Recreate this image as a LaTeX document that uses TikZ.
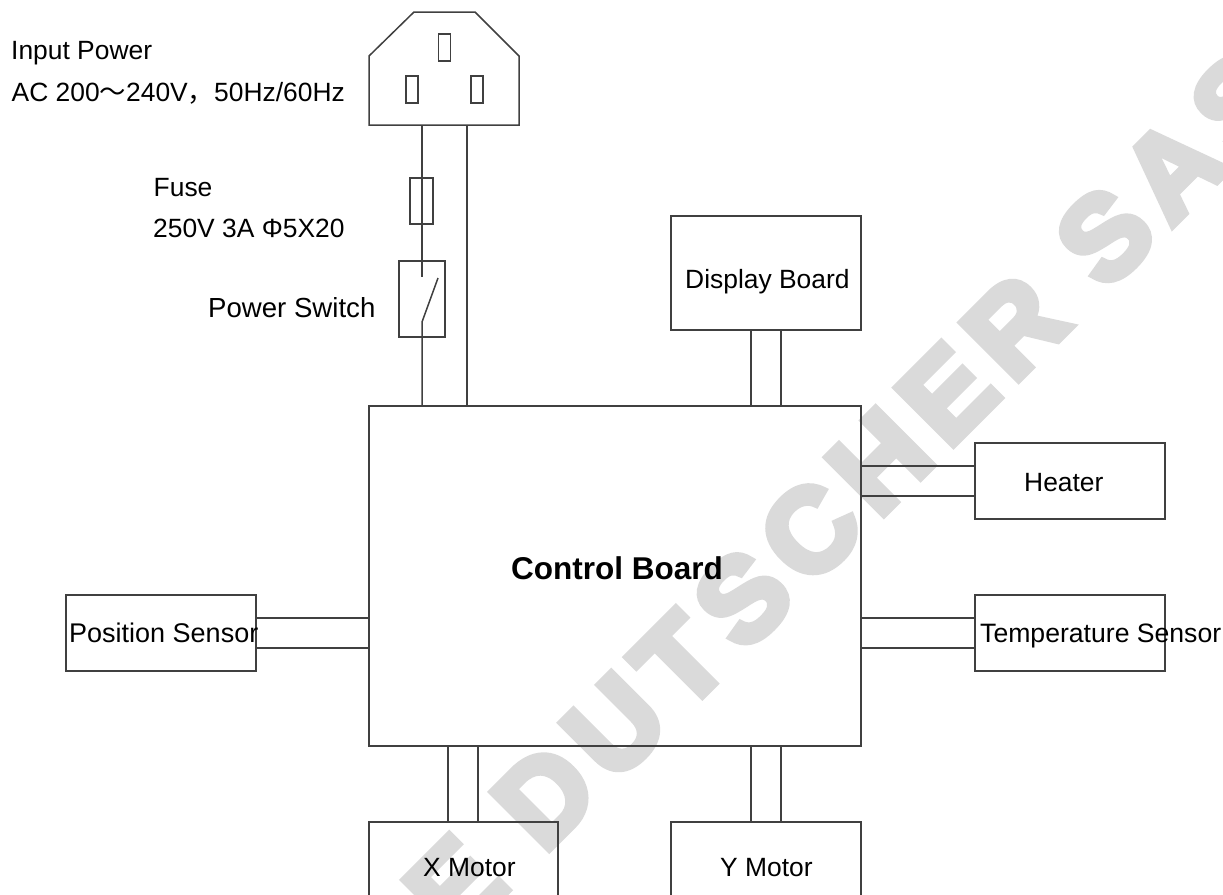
\documentclass[tikz,border=0pt]{standalone}
\usepackage{fontspec}
\setmainfont{Liberation Sans}
\newfontfamily\cjkfont{Noto Sans CJK SC}
\newfontfamily\markfont[FakeBold=6.5,LetterSpace=12]{Liberation Sans Bold}
\definecolor{linecol}{HTML}{404040}
\definecolor{markcol}{HTML}{DADADA}
\tikzset{
  x=1pt,y=-1pt,
  wire/.style={draw=linecol,line width=1.5pt},
  unitbox/.style={wire,rectangle,inner sep=0pt,minimum width=190pt,minimum height=76pt},
  txt/.style={inner sep=0pt,font=\fontsize{26.4}{30}\selectfont,text=black},
  txtleft/.style={txt,anchor=base west},
}
\begin{document}
\begin{tikzpicture}
\useasboundingbox (0,0) rectangle (1223,894);
\clip (0,0) rectangle (1223,894);
% watermark
\node[rotate=45,anchor=base east,inner sep=0pt,text=markcol,font=\fontsize{117}{130}\markfont] (mark) at (1296,102) {E DUTSCHER SAS};
% units
\node[wire,rectangle,inner sep=0pt,minimum width=492pt,minimum height=340pt] (ctrl) at (615,576) {};
\node[unitbox,minimum height=114pt] (disp) at (766,273) {};
\node[unitbox] (heat) at (1070,481) {};
\node[unitbox] (temp) at (1070,633) {};
\node[unitbox] (pos) at (161,633) {};
\node[unitbox,minimum width=189pt,minimum height=120pt] (xm) at (463.5,882) {};
\node[unitbox,minimum height=120pt] (ym) at (766,882) {};
% inlet
\node[wire,rectangle,inner sep=0pt,minimum width=12pt,minimum height=27pt] (slotT) at (444.5,47.5) {};
\node[wire,rectangle,inner sep=0pt,minimum width=12pt,minimum height=27pt] (slotL) at (412,89.5) {};
\node[wire,rectangle,inner sep=0pt,minimum width=12pt,minimum height=27pt] (slotR) at (477,89.5) {};
\coordinate (plugA) at (369,125);
\coordinate (plugB) at (369,56);
\coordinate (plugC) at (414,12);
\coordinate (plugD) at (475,12);
\coordinate (plugE) at (519,56);
\coordinate (plugF) at (519,125);
\draw[wire] (plugA) -- (plugB) -- (plugC) -- (plugD) -- (plugE) -- (plugF) -- cycle;
\coordinate (plugN) at (422,125);
\coordinate (plugL) at (467,125);
% fuse and switch
\node[wire,rectangle,inner sep=0pt,minimum width=23pt,minimum height=46pt] (fuse) at (421.5,201) {};
\node[wire,rectangle,inner sep=0pt,minimum width=46pt,minimum height=76pt] (sw) at (422,299) {};
\coordinate (swTop) at (422,277);
\coordinate (swPivot) at (422,322);
\coordinate (swBlade) at (438,278);
% power wires
\draw[wire] (plugN) -- (swTop);
\draw[wire] (swBlade) -- (swPivot) -- (swPivot |- ctrl.north);
\draw[wire] (plugL) -- (plugL |- ctrl.north);
% cables
\draw[wire] ([xshift=-15pt]disp.south) -- ([xshift=-15pt]disp.south |- ctrl.north);
\draw[wire] ([xshift=15pt]disp.south) -- ([xshift=15pt]disp.south |- ctrl.north);
\draw[wire] ([yshift=-15pt]heat.west) -- ([yshift=-15pt]heat.west -| ctrl.east);
\draw[wire] ([yshift=15pt]heat.west) -- ([yshift=15pt]heat.west -| ctrl.east);
\draw[wire] ([yshift=-15pt]temp.west) -- ([yshift=-15pt]temp.west -| ctrl.east);
\draw[wire] ([yshift=15pt]temp.west) -- ([yshift=15pt]temp.west -| ctrl.east);
\draw[wire] ([yshift=-15pt]pos.east) -- ([yshift=-15pt]pos.east -| ctrl.west);
\draw[wire] ([yshift=15pt]pos.east) -- ([yshift=15pt]pos.east -| ctrl.west);
\draw[wire] ([xshift=-15.5pt]xm.north) -- ([xshift=-15.5pt]xm.north |- ctrl.south);
\draw[wire] ([xshift=14.5pt]xm.north) -- ([xshift=14.5pt]xm.north |- ctrl.south);
\draw[wire] ([xshift=-15pt]ym.north) -- ([xshift=-15pt]ym.north |- ctrl.south);
\draw[wire] ([xshift=15pt]ym.north) -- ([xshift=15pt]ym.north |- ctrl.south);
% labels
\node[txtleft] (tInput) at (11,59) {Input Power};
\node[txtleft] (tAC) at (11.5,101) {AC 200{\cjkfont ～}240V{\cjkfont ，}50Hz/60Hz};
\node[txtleft] (tFuse) at (153.5,196) {Fuse};
\node[txtleft] (tFuseV) at (153,237) {250V 3A Φ5X20};
\node[txtleft,font=\fontsize{27.6}{30}\selectfont] (tSw) at (208,317) {Power Switch};
\node[txtleft] (tDisp) at (685,288) {Display Board};
\node[txtleft] (tHeat) at (1024,491) {Heater};
\node[txtleft,font=\fontsize{26.6}{30}\selectfont] (tTemp) at (980,642) {Temperature Sensor};
\node[txtleft,font=\fontsize{27}{30}\selectfont] (tPos) at (69,642) {Position Sensor};
\node[txtleft] (tX) at (423,876) {X Motor};
\node[txtleft] (tY) at (720,876) {Y Motor};
\node[txtleft,font=\fontsize{31.5}{34}\selectfont\bfseries] (tCtrl) at (511,579) {Control Board};
\end{tikzpicture}
\end{document}
